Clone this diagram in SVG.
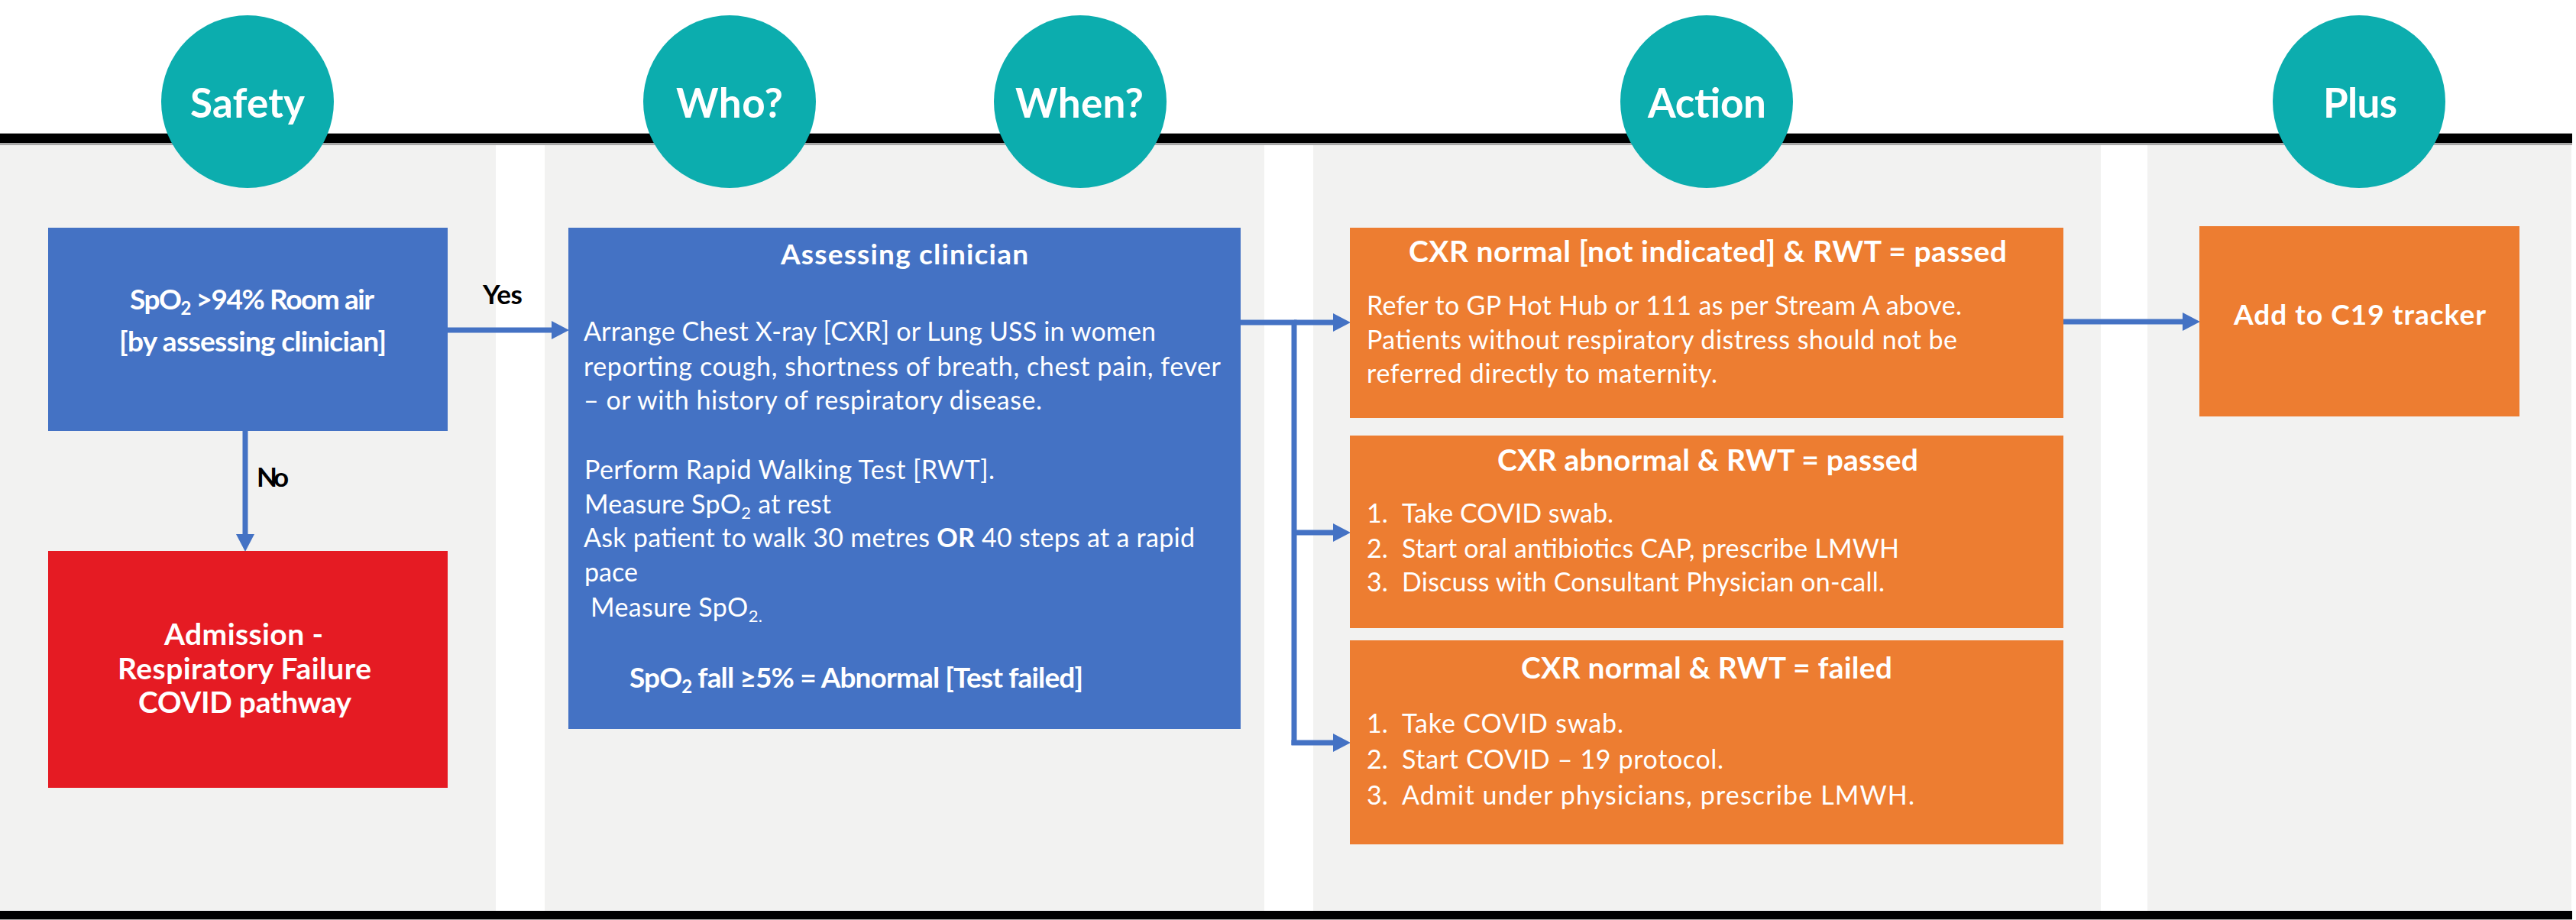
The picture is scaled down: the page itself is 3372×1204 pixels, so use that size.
<svg xmlns="http://www.w3.org/2000/svg" width="3372" height="1204" viewBox="0 0 3372 1204">
<style>
text{font-family:Lato,"Liberation Sans",sans-serif;fill:#fff}
.b{font-weight:bold}
.circ{font-size:53px;font-weight:bold}
.lbl{font-size:35px;font-weight:bold;fill:#000}
.t1{font-size:37px;font-weight:bold}
.t2{font-size:39px;font-weight:bold}
.body{font-size:34px}
.oh{font-size:39px;font-weight:bold}
.ob{font-size:34px}
.panel{fill:#F2F2F1}
.teal{fill:#0CADAE}
.conn{fill:none;stroke:#4472C4;stroke-width:7}
</style>
<defs>
<marker id="ah" markerUnits="userSpaceOnUse" markerWidth="24" markerHeight="24" viewBox="0 0 22 23" refX="0" refY="11.5" orient="auto">
<path d="M0,0 L22,11.5 L0,23 z" fill="#4472C4"/>
</marker>
</defs>
<rect width="3372" height="1204" fill="#fff"/>
<g id="panels">
<rect class="panel" x="0" y="186" width="649" height="1006"/>
<rect class="panel" x="713" y="186" width="942" height="1006"/>
<rect class="panel" x="1719" y="186" width="1031" height="1006"/>
<rect class="panel" x="2811" y="186" width="555" height="1006"/>
</g>
<g id="rules">
<rect x="0" y="174" width="3367" height="16" fill="#A8A8A8"/>
<rect x="0" y="175" width="3367" height="12" fill="#000"/>
<rect x="0" y="1192" width="3367" height="12" fill="#A8A8A8"/>
<rect x="0" y="1192" width="3367" height="11" fill="#000"/>
</g>
<g id="headers">
<g id="h-safety"><circle class="teal" cx="324" cy="133" r="113"/><text class="circ" x="249" y="154" textLength="150">Safety</text></g>
<g id="h-who"><circle class="teal" cx="955" cy="133" r="113"/><text class="circ" x="885" y="154" textLength="140">Who?</text></g>
<g id="h-when"><circle class="teal" cx="1414" cy="133" r="113"/><text class="circ" x="1329" y="154" textLength="168">When?</text></g>
<g id="h-action"><circle class="teal" cx="2234" cy="133" r="113"/><text class="circ" x="2157" y="154" textLength="155">Action</text></g>
<g id="h-plus"><circle class="teal" cx="3088" cy="133" r="113"/><text class="circ" x="3041" y="154" textLength="97">Plus</text></g>
</g>
<g id="connectors">
<path class="conn" d="M586,432 H722" marker-end="url(#ah)"/>
<path class="conn" d="M321,564 V699" marker-end="url(#ah)"/>
<path class="conn" d="M1624,422 H1694 V975"/>
<path class="conn" d="M1694,422 H1745" marker-end="url(#ah)"/>
<path class="conn" d="M1694,697 H1745" marker-end="url(#ah)"/>
<path class="conn" d="M1690.5,972 H1745" marker-end="url(#ah)"/>
<path class="conn" d="M2701,421 H2857" marker-end="url(#ah)"/>
<text class="lbl" x="632" y="398" textLength="52">Yes</text>
<text class="lbl" x="336" y="637" textLength="42">No</text>
</g>
<g id="n-spo2">
<rect x="63" y="298" width="523" height="266" fill="#4472C4"/>
<text class="t1" x="170" y="405" textLength="320">SpO<tspan font-size="24" dy="7">2</tspan><tspan dy="-7"> &gt;94% Room air</tspan></text>
<text class="t1" x="156" y="460" textLength="350">[by assessing clinician]</text>
</g>
<g id="n-admission">
<rect x="63" y="721" width="523" height="310" fill="#E51B23"/>
<text class="t2" x="215" y="844" textLength="208">Admission -</text>
<text class="t2" x="154" y="889" textLength="332">Respiratory Failure</text>
<text class="t2" x="181" y="933" textLength="279">COVID pathway</text>
</g>
<g id="n-assessing">
<rect x="744" y="298" width="880" height="656" fill="#4472C4"/>
<text class="t1" x="1022" y="346" textLength="324">Assessing clinician</text>
<text class="body" x="764" y="446" textLength="749">Arrange Chest X-ray [CXR] or Lung USS in women</text>
<text class="body" x="764" y="492" textLength="834">reporting cough, shortness of breath, chest pain, fever</text>
<text class="body" x="764" y="536" textLength="600">– or with history of respiratory disease.</text>
<text class="body" x="765" y="627" textLength="537">Perform Rapid Walking Test [RWT].</text>
<text class="body" x="765" y="672" textLength="323">Measure SpO<tspan font-size="22" dy="7">2</tspan><tspan dy="-7"> at rest</tspan></text>
<text class="body" x="764" y="716" textLength="800">Ask patient to walk 30 metres <tspan class="b">OR</tspan> 40 steps at a rapid</text>
<text class="body" x="765" y="761" textLength="70">pace</text>
<text class="body" x="773" y="807" textLength="225">Measure SpO<tspan font-size="22" dy="7">2.</tspan></text>
<text class="t1" x="824" y="900" textLength="594">SpO<tspan font-size="24" dy="7">2</tspan><tspan dy="-7"> fall ≥5% = Abnormal [Test failed]</tspan></text>
</g>
<g id="n-normal-passed">
<rect x="1767" y="298" width="934" height="249" fill="#ED7D31"/>
<text class="oh" x="1844" y="343" textLength="783">CXR normal [not indicated] &amp; RWT = passed</text>
<text class="ob" x="1789" y="412" textLength="779">Refer to GP Hot Hub or 111 as per Stream A above.</text>
<text class="ob" x="1789" y="457" textLength="773">Patients without respiratory distress should not be</text>
<text class="ob" x="1789" y="501" textLength="459">referred directly to maternity.</text>
</g>
<g id="n-abnormal-passed">
<rect x="1767" y="570" width="934" height="252" fill="#ED7D31"/>
<text class="oh" x="1960" y="616" textLength="551">CXR abnormal &amp; RWT = passed</text>
<text class="ob" x="1789" y="684">1.</text>
<text class="ob" x="1835" y="684" textLength="277">Take COVID swab.</text>
<text class="ob" x="1789" y="730">2.</text>
<text class="ob" x="1835" y="730" textLength="651">Start oral antibiotics CAP, prescribe LMWH</text>
<text class="ob" x="1789" y="774">3.</text>
<text class="ob" x="1835" y="774" textLength="632">Discuss with Consultant Physician on-call.</text>
</g>
<g id="n-normal-failed">
<rect x="1767" y="838" width="934" height="267" fill="#ED7D31"/>
<text class="oh" x="1991" y="888" textLength="486">CXR normal &amp; RWT = failed</text>
<text class="ob" x="1789" y="959" font-size="35">1.</text>
<text class="ob" x="1835" y="959" font-size="35" textLength="290">Take COVID swab.</text>
<text class="ob" x="1789" y="1006" font-size="35">2.</text>
<text class="ob" x="1835" y="1006" font-size="35" textLength="421">Start COVID – 19 protocol.</text>
<text class="ob" x="1789" y="1053" font-size="35">3.</text>
<text class="ob" x="1835" y="1053" font-size="35" textLength="671">Admit under physicians, prescribe LMWH.</text>
</g>
<g id="n-tracker">
<rect x="2879" y="296" width="419" height="249" fill="#ED7D31"/>
<text class="t1" x="2924" y="425" font-size="41" textLength="330">Add to C19 tracker</text>
</g>
</svg>
